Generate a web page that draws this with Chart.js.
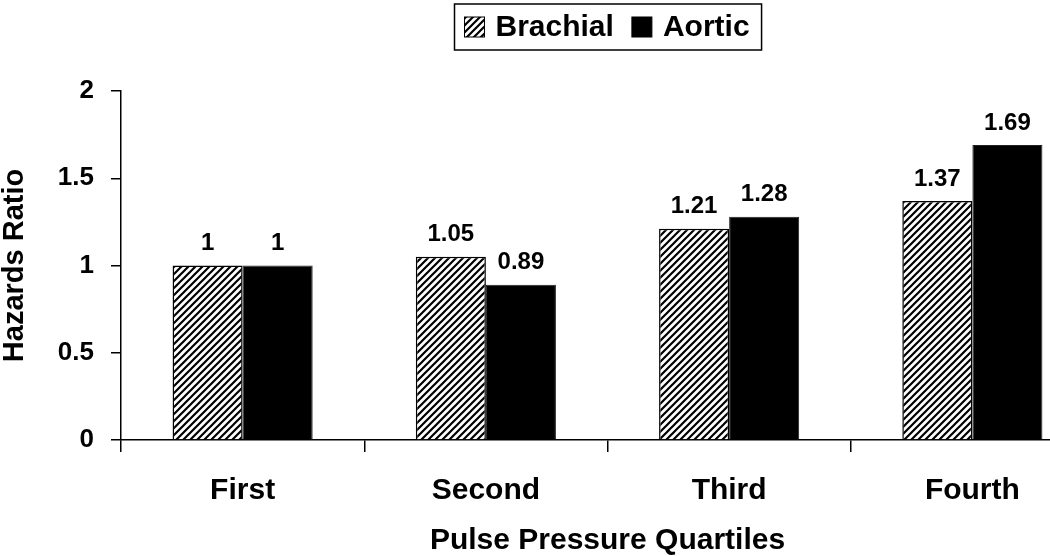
<!DOCTYPE html>
<html>
<head>
<meta charset="utf-8">
<script src="https://cdn.jsdelivr.net/npm/chart.js@4/dist/chart.umd.min.js"></script>
<style>
  html, body { margin: 0; padding: 0; background: #fff; overflow: hidden; }
  #wrap { width: 1100px; height: 556px; }
</style>
</head>
<body>
<div id="wrap"><canvas id="chart" width="1100" height="556"></canvas></div>
<script>
// Data
const quartiles = ['First', 'Second', 'Third', 'Fourth'];
const brachial = [1, 1.05, 1.21, 1.37];
const aortic = [1, 0.89, 1.28, 1.69];
const seriesNames = ['Brachial', 'Aortic'];
const yTicks = [0, 0.5, 1, 1.5, 2];

const FONT = 'Liberation Sans, Arial, Helvetica, sans-serif';

// Diagonal hatch for the Brachial bars
function makeHatch() {
    const s = 7;
    const c = document.createElement('canvas');
    c.width = s;
    c.height = s;
    const g = c.getContext('2d');
    g.fillStyle = '#fff';
    g.fillRect(0, 0, s, s);
    g.strokeStyle = '#000';
    g.lineWidth = 2.2;
    g.beginPath();
    g.moveTo(0, s); g.lineTo(s, 0);
    g.moveTo(-1, 1); g.lineTo(1, -1);
    g.moveTo(s - 1, s + 1); g.lineTo(s + 1, s - 1);
    g.stroke();
    return g.createPattern(c, 'repeat');
}
const hatch = makeHatch();

// Value labels over each bar
const valueLabels = {
    id: 'valueLabels',
    afterDatasetsDraw(chart) {
        const ctx = chart.ctx;
        ctx.save();
        ctx.font = 'bold 24px ' + FONT;
        ctx.fillStyle = '#000';
        ctx.textAlign = 'center';
        ctx.textBaseline = 'bottom';
        chart.data.datasets.forEach((ds, i) => {
            chart.getDatasetMeta(i).data.forEach((bar, j) => {
                ctx.fillText(String(ds.data[j]), bar.x, bar.y - 10);
            });
        });
        ctx.restore();
    }
};

// Boxed legend above the plot
const boxedLegend = {
    id: 'boxedLegend',
    afterDraw(chart) {
        const ctx = chart.ctx;
        const area = chart.chartArea;
        const sw = 20;
        ctx.save();
        ctx.font = 'bold 30px ' + FONT;
        const items = chart.data.datasets.map(ds => ({
            label: ds.label,
            fill: ds.backgroundColor,
            w: ctx.measureText(ds.label).width
        }));
        const padL = 10, gapTxt = 11, gapItem = 18, padR = 12;
        let total = padL + padR;
        items.forEach((it, i) => {
            total += sw + gapTxt + it.w + (i < items.length - 1 ? gapItem : 0);
        });
        const top = 4, h = 46;
        const left = Math.round((area.left + area.right) / 2 - total / 2) + 0.5;
        ctx.lineWidth = 1.5;
        ctx.strokeStyle = '#000';
        ctx.strokeRect(left, top, total, h);
        let x = left + padL;
        const cy = top + h / 2;
        items.forEach(it => {
            ctx.fillStyle = it.fill;
            ctx.fillRect(x, cy - sw / 2, sw, sw);
            ctx.lineWidth = 1;
            ctx.strokeRect(x, cy - sw / 2, sw, sw);
            x += sw + gapTxt;
            ctx.fillStyle = '#000';
            ctx.textBaseline = 'middle';
            ctx.fillText(it.label, x, cy + 1);
            x += it.w + gapItem;
        });
        ctx.restore();
    }
};

new Chart(document.getElementById('chart'), {
    type: 'bar',
    data: {
        labels: quartiles,
        datasets: [
            {
                label: seriesNames[0],
                data: brachial,
                backgroundColor: hatch,
                borderColor: '#000',
                borderWidth: 1.5
            },
            {
                label: seriesNames[1],
                data: aortic,
                backgroundColor: '#000',
                borderColor: '#222',
                borderWidth: 1
            }
        ]
    },
    options: {
        responsive: false,
        animation: false,
        events: [],
        layout: { padding: { top: 91, right: 6, left: 0, bottom: 0 } },
        datasets: {
            bar: { categoryPercentage: 0.576, barPercentage: 1 }
        },
        plugins: {
            legend: { display: false },
            tooltip: { enabled: false }
        },
        scales: {
            x: {
                afterFit: s => { s.height = 116; },
                border: { color: '#000', width: 1.5 },
                grid: { drawOnChartArea: false, color: '#000', tickLength: 12, lineWidth: 1.5 },
                ticks: {
                    color: '#000',
                    padding: 21,
                    font: { family: FONT, size: 30, weight: 'bold' }
                },
                title: {
                    display: true,
                    text: 'Pulse Pressure Quartiles',
                    color: '#000',
                    padding: { top: 0, bottom: 0 },
                    font: { family: FONT, size: 30, weight: 'bold', lineHeight: 1 }
                }
            },
            y: {
                min: yTicks[0],
                max: yTicks[yTicks.length - 1],
                afterFit: s => { s.width = 121; },
                afterBuildTicks: s => { s.ticks = yTicks.map(v => ({ value: v })); },
                border: { color: '#000', width: 1.5 },
                grid: { drawOnChartArea: false, color: '#000', tickLength: 10, lineWidth: 1.5 },
                ticks: {
                    color: '#000',
                    padding: 17,
                    callback: v => String(v),
                    font: { family: FONT, size: 26, weight: 'bold' }
                },
                title: {
                    display: true,
                    text: 'Hazards Ratio',
                    color: '#000',
                    padding: { top: 0, bottom: 0 },
                    font: { family: FONT, size: 29, weight: 'bold', lineHeight: 1 }
                }
            }
        }
    },
    plugins: [valueLabels, boxedLegend]
});
</script>
</body>
</html>
